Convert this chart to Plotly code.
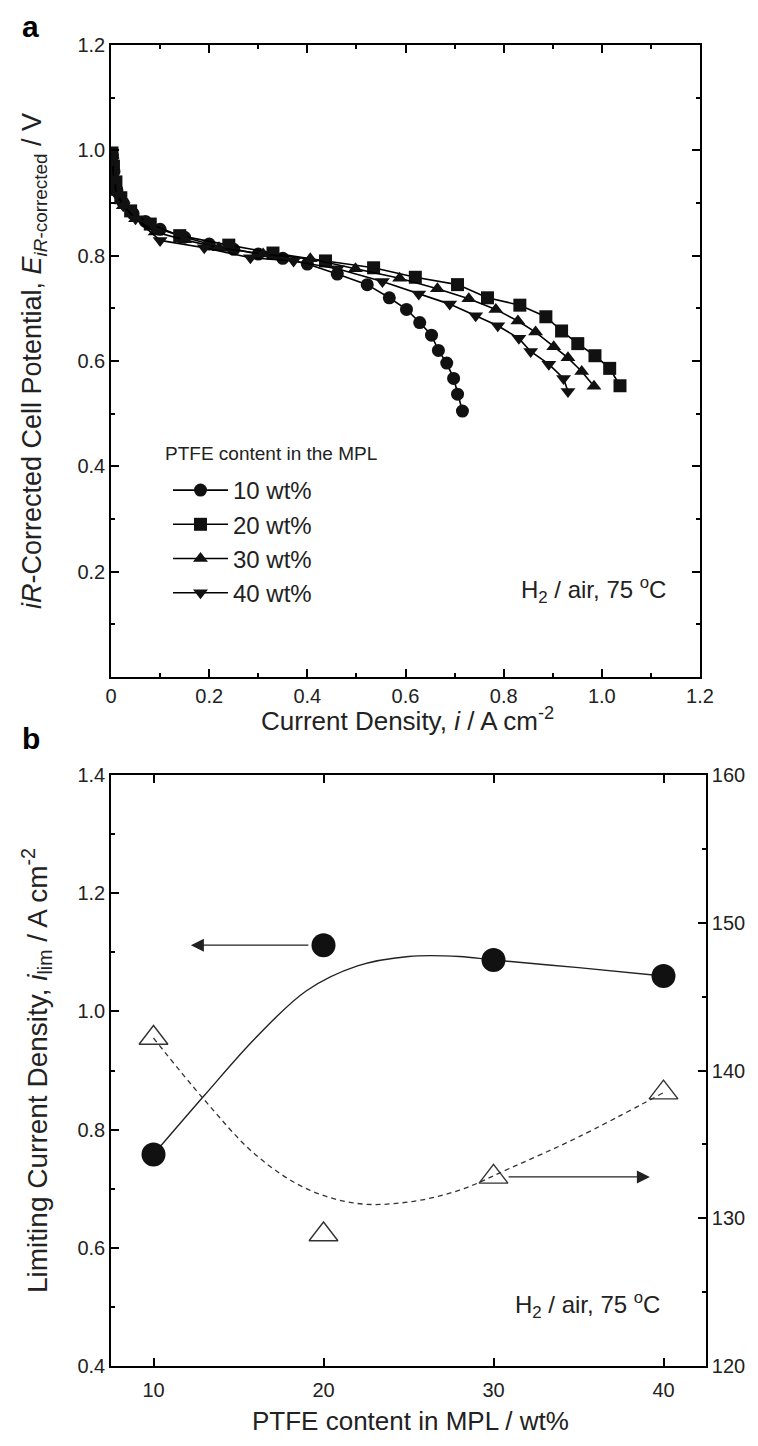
import plotly.graph_objects as go

# ---------------- Panel a data ----------------
i_10 = [0.003, 0.006, 0.012, 0.025, 0.045, 0.07, 0.10, 0.15, 0.20, 0.25, 0.30, 0.35, 0.40, 0.461, 0.522, 0.567, 0.602, 0.629, 0.653, 0.667, 0.684, 0.698, 0.706, 0.716]
E_10 = [0.99, 0.96, 0.925, 0.90, 0.88, 0.865, 0.85, 0.835, 0.822, 0.812, 0.803, 0.795, 0.784, 0.765, 0.745, 0.720, 0.698, 0.673, 0.649, 0.620, 0.596, 0.567, 0.537, 0.505]

i_20 = [0.002, 0.005, 0.01, 0.02, 0.04, 0.08, 0.14, 0.24, 0.33, 0.437, 0.535, 0.620, 0.706, 0.767, 0.833, 0.886, 0.918, 0.951, 0.986, 1.016, 1.037]
E_20 = [0.995, 0.97, 0.94, 0.91, 0.885, 0.86, 0.838, 0.820, 0.805, 0.790, 0.777, 0.759, 0.745, 0.720, 0.706, 0.684, 0.657, 0.633, 0.610, 0.586, 0.553]

i_30 = [0.002, 0.006, 0.012, 0.025, 0.05, 0.09, 0.15, 0.22, 0.31, 0.406, 0.498, 0.588, 0.665, 0.729, 0.784, 0.829, 0.865, 0.902, 0.931, 0.959, 0.984]
E_30 = [0.99, 0.95, 0.92, 0.895, 0.87, 0.845, 0.83, 0.815, 0.803, 0.794, 0.775, 0.757, 0.737, 0.718, 0.698, 0.676, 0.655, 0.627, 0.606, 0.580, 0.552]

i_40 = [0.002, 0.006, 0.012, 0.025, 0.05, 0.10, 0.19, 0.284, 0.372, 0.461, 0.553, 0.627, 0.690, 0.743, 0.788, 0.831, 0.855, 0.892, 0.922, 0.931]
E_40 = [0.98, 0.945, 0.915, 0.895, 0.87, 0.829, 0.815, 0.796, 0.790, 0.775, 0.751, 0.727, 0.708, 0.686, 0.667, 0.643, 0.618, 0.594, 0.567, 0.542]

series_names = ["10 wt%", "20 wt%", "30 wt%", "40 wt%"]
series_symbols = ["circle", "square", "triangle-up", "triangle-down"]

x_ticks_a = [0, 0.2, 0.4, 0.6, 0.8, 1.0, 1.2]
x_ticklabels_a = ["0", "0.2", "0.4", "0.6", "0.8", "1.0", "1.2"]
y_ticks_a = [0.2, 0.4, 0.6, 0.8, 1.0, 1.2]
y_ticklabels_a = ["0.2", "0.4", "0.6", "0.8", "1.0", "1.2"]

# ---------------- Panel b data ----------------
ptfe = [10, 20, 30, 40]
i_lim = [0.758, 1.112, 1.087, 1.060]
right_vals = [142.2, 128.9, 132.8, 138.5]

fit_lim_x = [10, 13, 16, 19, 22, 25, 28, 30, 35, 40]
fit_lim_y = [0.758, 0.858, 0.955, 1.035, 1.077, 1.093, 1.093, 1.087, 1.074, 1.060]

fit_right_x = [10, 13, 16, 19, 22, 25, 28, 31, 35, 40]
fit_right_y = [142.2, 138.0, 134.3, 132.0, 131.0, 131.1, 131.9, 133.4, 135.5, 138.5]

x_ticks_b = [10, 20, 30, 40]
y_ticks_b = [0.4, 0.6, 0.8, 1.0, 1.2, 1.4]
y_ticklabels_b = ["0.4", "0.6", "0.8", "1.0", "1.2", "1.4"]
y2_ticks_b = [120, 130, 140, 150, 160]

FONT = "Liberation Sans, Arial, sans-serif"
PAGE_W, PAGE_H = 758, 1446
BODY_MARGIN = 8  # default page margin around the plot div
W, H = PAGE_W - 2 * BODY_MARGIN, PAGE_H - 2 * BODY_MARGIN
TICK_SIZE = 20
TXT = "#222"

def px_x(p):
    return (p - BODY_MARGIN) / W

def px_y(p):
    return 1 - (p - BODY_MARGIN) / H

fig = go.Figure()

for xs, ys, nm, sym in zip([i_10, i_20, i_30, i_40], [E_10, E_20, E_30, E_40], series_names, series_symbols):
    fig.add_trace(go.Scatter(
        x=xs, y=ys, name=nm, mode="lines+markers",
        line=dict(color="black", width=1.6),
        marker=dict(symbol=sym, size=13, color="#111", line=dict(width=0)),
        xaxis="x", yaxis="y", showlegend=True,
    ))

# Panel b fitted curves
fig.add_trace(go.Scatter(x=fit_lim_x, y=fit_lim_y, mode="lines", line=dict(color="#222", width=1.4, shape="spline", smoothing=1.0),
                         xaxis="x2", yaxis="y2", showlegend=False, hoverinfo="skip"))
fig.add_trace(go.Scatter(x=fit_right_x, y=fit_right_y, mode="lines", line=dict(color="#333", width=1.3, dash="5px,4px", shape="spline", smoothing=1.0),
                         xaxis="x2", yaxis="y3", showlegend=False, hoverinfo="skip"))
fig.add_trace(go.Scatter(x=ptfe, y=i_lim, mode="markers", marker=dict(symbol="circle", size=24, color="#111"),
                         xaxis="x2", yaxis="y2", showlegend=False))
fig.add_trace(go.Scatter(x=ptfe, y=right_vals, mode="markers",
                         marker=dict(symbol="triangle-up-open", size=25, color="#333", line=dict(width=1.4, color="#333")),
                         xaxis="x2", yaxis="y3", showlegend=False))

axis_common = dict(showline=True, linecolor="black", linewidth=1.6, ticks="inside", ticklen=8, tickwidth=1.5,
                   tickcolor="black", showgrid=False, zeroline=False, automargin=False,
                   tickfont=dict(family=FONT, size=TICK_SIZE, color=TXT))

xa_dom = [px_x(111), px_x(700)]
xb_dom = [px_x(111), px_x(706)]

fig.update_layout(
    width=W, height=H, margin=dict(l=0, r=0, t=0, b=0, autoexpand=False),
    paper_bgcolor="white", plot_bgcolor="white",
    font=dict(family=FONT, color=TXT),
    xaxis=dict(**axis_common, domain=xa_dom, anchor="y", range=[0, 1.2], tickmode="array",
               tickvals=x_ticks_a, ticktext=x_ticklabels_a, mirror="ticks", ticklabelstandoff=0,
               minor=dict(ticks="inside", ticklen=4, tickcolor="black", tickvals=[0.1, 0.3, 0.5, 0.7, 0.9, 1.1])),
    yaxis=dict(**axis_common, domain=[px_y(677), px_y(45)], anchor="x", range=[0, 1.2], tickmode="array",
               tickvals=y_ticks_a, ticktext=y_ticklabels_a, mirror="ticks",
               minor=dict(ticks="inside", ticklen=4, tickcolor="black", tickvals=[0.1, 0.3, 0.5, 0.7, 0.9, 1.1]),
               title=dict(text="<i>iR</i>-Corrected Cell Potential, <i>E</i><sub><i>iR</i>-corrected</sub> / V",
                          font=dict(family=FONT, size=27, color=TXT), standoff=28)),
    xaxis2=dict(**axis_common, domain=xb_dom, anchor="y2", range=[7.5, 42.5], tickmode="array",
                tickvals=x_ticks_b, ticktext=[str(v) for v in x_ticks_b], mirror="ticks", ticklabelstandoff=5),
    yaxis2=dict(**axis_common, domain=[px_y(1366), px_y(775)], anchor="x2", range=[0.4, 1.4], tickmode="array",
                tickvals=y_ticks_b, ticktext=y_ticklabels_b,
                minor=dict(ticks="inside", ticklen=4, tickcolor="black", tickvals=[0.5, 0.7, 0.9, 1.1, 1.3]),
                title=dict(text="Limiting Current Density, <i>i</i><sub>lim</sub> / A cm<sup>-2</sup>",
                           font=dict(family=FONT, size=28, color=TXT), standoff=22)),
    yaxis3=dict(**axis_common, domain=[px_y(1366), px_y(775)], anchor="x2", overlaying="y2", side="right",
                range=[120, 160], tickmode="array", tickvals=y2_ticks_b, ticktext=[str(v) for v in y2_ticks_b],
                minor=dict(ticks="inside", ticklen=4, tickcolor="black", tickvals=[125, 135, 145, 155])),
    legend=dict(x=px_x(168), y=px_y(468), xanchor="left", yanchor="top", bgcolor="rgba(0,0,0,0)",
                font=dict(family=FONT, size=24, color=TXT), itemwidth=55, tracegroupgap=0),
    annotations=[
        dict(text="Current Density, <i>i</i> / A cm<sup>-2</sup>", x=px_x(408), y=px_y(720), xref="paper", yref="paper",
             showarrow=False, font=dict(family=FONT, size=26, color=TXT), xanchor="center", yanchor="middle"),
        dict(text="PTFE content in MPL / wt%", x=px_x(410), y=px_y(1421), xref="paper", yref="paper",
             showarrow=False, font=dict(family=FONT, size=26, color=TXT), xanchor="center", yanchor="middle"),
        dict(text="PTFE content in the MPL", x=px_x(163), y=px_y(453), xref="paper", yref="paper", showarrow=False,
             font=dict(family=FONT, size=19, color=TXT), xanchor="left", yanchor="middle"),
        dict(text="<b>a</b>", x=px_x(20), y=px_y(8), xref="paper", yref="paper", showarrow=False,
             font=dict(family=FONT, size=30, color="black"), xanchor="left", yanchor="top"),
        dict(text="<b>b</b>", x=px_x(20), y=px_y(738), xref="paper", yref="paper", showarrow=False,
             font=dict(family=FONT, size=30, color="black"), xanchor="left", yanchor="middle"),
        dict(text="H<sub>2</sub> / air, 75 <sup>o</sup>C", x=px_x(668), y=px_y(590), xref="paper", yref="paper",
             showarrow=False, font=dict(family=FONT, size=24, color=TXT), xanchor="right", yanchor="middle"),
        dict(text="H<sub>2</sub> / air, 75 <sup>o</sup>C", x=px_x(662), y=px_y(1305), xref="paper", yref="paper",
             showarrow=False, font=dict(family=FONT, size=24, color=TXT), xanchor="right", yanchor="middle"),
        # arrows pointing to the respective axes
        dict(x=12.2, y=i_lim[1], ax=19.2, ay=i_lim[1], xref="x2", yref="y2", axref="x2", ayref="y2",
             text="", showarrow=True, arrowhead=2, arrowsize=2, arrowwidth=1.3, arrowcolor="#222"),
        dict(x=39.2, y=right_vals[2], ax=30.8, ay=right_vals[2], xref="x2", yref="y3", axref="x2", ayref="y3",
             text="", showarrow=True, arrowhead=2, arrowsize=2, arrowwidth=1.3, arrowcolor="#222"),
    ],
)

fig.write_html("out.html")
